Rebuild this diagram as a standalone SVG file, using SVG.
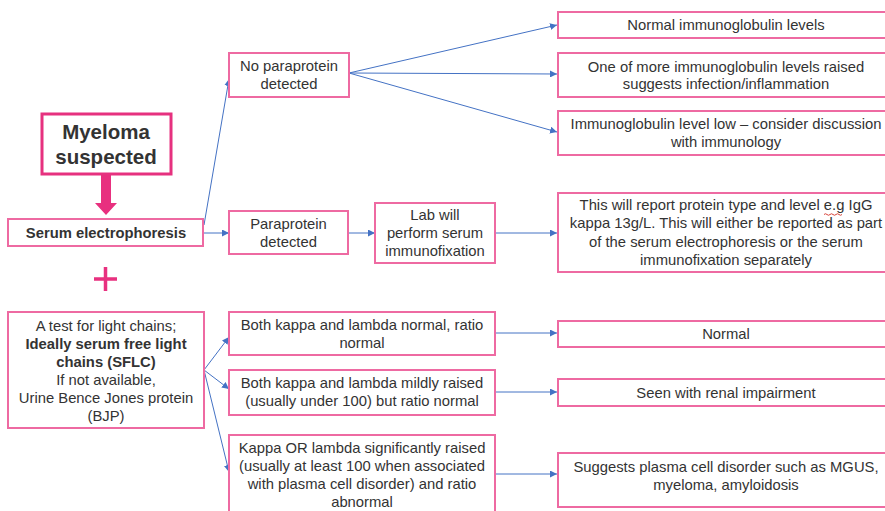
<svg xmlns="http://www.w3.org/2000/svg" width="885" height="511" viewBox="0 0 885 511">
<defs>
<marker id="ah" viewBox="0 0 10 10" refX="10" refY="5" markerWidth="7" markerHeight="7" markerUnits="userSpaceOnUse" orient="auto">
<path d="M0,0 L10,5 L0,10 z" fill="#4472c4"/>
</marker>
</defs>
<style>
.box{fill:#fff;stroke:#ee6aa2;stroke-width:2}
.t{font-family:"Liberation Sans",Arial,sans-serif;font-size:14.8px;fill:#333;text-anchor:middle}
.b{font-weight:bold}
.c{fill:none;stroke:#4472c4;stroke-width:1;marker-end:url(#ah)}
</style>
<rect width="885" height="511" fill="#fff"/>
<g id="connectors">
<line class="c" x1="204" y1="225" x2="229" y2="79"/>
<line class="c" x1="203" y1="233" x2="229" y2="233"/>
<line class="c" x1="349" y1="73" x2="557" y2="25"/>
<line class="c" x1="349" y1="73" x2="557" y2="74"/>
<line class="c" x1="349" y1="73" x2="557" y2="132"/>
<line class="c" x1="348" y1="233" x2="375" y2="233"/>
<line class="c" x1="495" y1="233" x2="557" y2="233"/>
<line class="c" x1="204" y1="370" x2="229" y2="337"/>
<line class="c" x1="204" y1="370" x2="229" y2="389"/>
<line class="c" x1="204" y1="370" x2="229" y2="472"/>
<line class="c" x1="495" y1="333" x2="557" y2="333"/>
<line class="c" x1="495" y1="392" x2="557" y2="392"/>
<line class="c" x1="495" y1="474" x2="557" y2="474"/>
<path d="M101,174 V203 H95 L106,215 L117,203 H111 V174 Z" fill="#e8307f"/>
</g>
<g id="myeloma">
<rect x="42" y="114" width="129" height="60" fill="#fff" stroke="#e6317f" stroke-width="3"/>
<text class="t b" x="106" y="139" style="font-size:20.5px">Myeloma</text>
<text class="t b" x="106" y="164" style="font-size:20.5px">suspected</text>
</g>
<g id="serum">
<rect class="box" x="8" y="219" width="195" height="27"/>
<text class="t b" x="106" y="238">Serum electrophoresis</text>
</g>
<g id="plus">
<path d="M94,279 H117 M105.5,267 V291" stroke="#e8307f" stroke-width="3.5" fill="none"/>
</g>
<g id="lightchains">
<rect class="box" x="8" y="312" width="196" height="116"/>
<text class="t" x="106" y="331">A test for light chains;</text>
<text class="t b" x="106" y="349">Ideally serum free light</text>
<text class="t b" x="106" y="367">chains (SFLC)</text>
<text class="t" x="106" y="385">If not available,</text>
<text class="t" x="106" y="403">Urine Bence Jones protein</text>
<text class="t" x="106" y="421">(BJP)</text>
</g>
<g id="noparaprotein">
<rect class="box" x="229" y="53" width="120" height="44"/>
<text class="t" x="289" y="71">No paraprotein</text>
<text class="t" x="289" y="89">detected</text>
</g>
<g id="paraprotein">
<rect class="box" x="229" y="211" width="119" height="43"/>
<text class="t" x="288.5" y="229">Paraprotein</text>
<text class="t" x="288.5" y="247">detected</text>
</g>
<g id="lab">
<rect class="box" x="375" y="203" width="120" height="60"/>
<text class="t" x="435" y="220">Lab will</text>
<text class="t" x="435" y="238">perform serum</text>
<text class="t" x="435" y="256">immunofixation</text>
</g>
<g id="normalig">
<rect class="box" x="558" y="12" width="336" height="26"/>
<text class="t" x="726" y="30">Normal immunoglobulin levels</text>
</g>
<g id="raisedig">
<rect class="box" x="558" y="53" width="336" height="44"/>
<text class="t" x="726" y="72">One of more immunoglobulin levels raised</text>
<text class="t" x="726" y="89">suggests infection/inflammation</text>
</g>
<g id="lowig">
<rect class="box" x="558" y="111" width="336" height="44"/>
<text class="t" x="726" y="129">Immunoglobulin level low – consider discussion</text>
<text class="t" x="726" y="147">with immunology</text>
</g>
<g id="report">
<rect class="box" x="558" y="193" width="336" height="79"/>
<text class="t" x="726" y="210">This will report protein type and level e.g IgG</text>
<text class="t" x="726" y="228">kappa 13g/L. This will either be reported as part</text>
<text class="t" x="726" y="247">of the serum electrophoresis or the serum</text>
<text class="t" x="726" y="265">immunofixation separately</text>
<path d="M824,214.5 q1.5,-1.5 3,0 t3,0 t3,0 t3,0 t3,0 t3,0" fill="none" stroke="#d9463c" stroke-width="1"/>
</g>
<g id="bothnormal">
<rect class="box" x="229" y="312" width="266" height="43"/>
<text class="t" x="362" y="330">Both kappa and lambda normal, ratio</text>
<text class="t" x="362" y="348">normal</text>
</g>
<g id="mildly">
<rect class="box" x="229" y="370" width="266" height="45"/>
<text class="t" x="362" y="388">Both kappa and lambda mildly raised</text>
<text class="t" x="362" y="406">(usually under 100) but ratio normal</text>
</g>
<g id="significant">
<rect class="box" x="229" y="435" width="266" height="80"/>
<text class="t" x="362" y="453">Kappa OR lambda significantly raised</text>
<text class="t" x="362" y="471">(usually at least 100 when associated</text>
<text class="t" x="362" y="489">with plasma cell disorder) and ratio</text>
<text class="t" x="362" y="507">abnormal</text>
</g>
<g id="normal">
<rect class="box" x="558" y="321" width="336" height="26"/>
<text class="t" x="726" y="339">Normal</text>
</g>
<g id="renal">
<rect class="box" x="558" y="379" width="336" height="27"/>
<text class="t" x="726" y="398">Seen with renal impairment</text>
</g>
<g id="plasma">
<rect class="box" x="558" y="453" width="336" height="54"/>
<text class="t" x="726" y="472">Suggests plasma cell disorder such as MGUS,</text>
<text class="t" x="726" y="490">myeloma, amyloidosis</text>
</g>
</svg>
